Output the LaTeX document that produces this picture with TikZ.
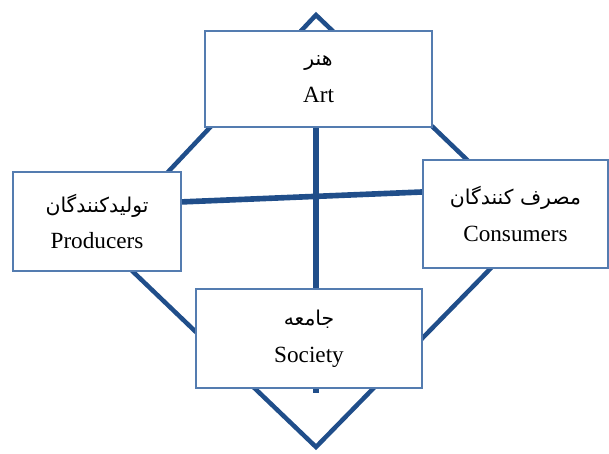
\documentclass[tikz,border=0pt]{standalone}
\usepackage{fontspec}
\setmainfont{Liberation Serif}
\newfontfamily\persianfont[Script=Arabic]{DejaVu Sans}
\TeXXeTstate=1
\usepackage{xcolor}
\usetikzlibrary{backgrounds}
\definecolor{linkblue}{RGB}{32,78,138}
\definecolor{edgeblue}{RGB}{84,124,176}
\newcommand{\fa}[1]{{\persianfont\fontsize{14.5}{14.5}\selectfont\beginR #1\endR}}
\tikzset{
  box/.style={draw=edgeblue, line width=1.4pt, fill=white, rectangle, align=center, font=\fontsize{16.5}{26}\selectfont},
  rim/.style={draw=linkblue, line width=3.2pt, line join=miter},
  bar/.style={draw=linkblue, line width=4pt}
}

\begin{document}
\begin{tikzpicture}[x=0.025cm, y=-0.025cm]
\useasboundingbox (0,0) rectangle (609,453);

% boxes
\node[box, minimum width=5.675cm, minimum height=2.4cm] (art) at (318.5,79) {\fa{هنر}\\Art};
\node[box, minimum width=4.2cm, minimum height=2.475cm] (prod) at (97,221.5) {\fa{تولیدکنندگان}\\Producers};
\node[box, minimum width=4.625cm, minimum height=2.7cm] (cons) at (515.5,214) {\fa{مصرف کنندگان}\\Consumers};
\node[box, minimum width=5.65cm, minimum height=2.475cm] (soc) at (309,338.5) {\fa{جامعه}\\Society};

% corners of the diamond and the end of the axis
\coordinate (top) at (316,15);
\coordinate (lft) at (102,242);
\coordinate (bot) at (316,447);
\coordinate (rgt) at (534,224);
\coordinate (stub) at (316,393);

\begin{pgfonlayer}{background}
\draw[rim] (top) -- (lft) -- (bot) -- (rgt) -- cycle;
\draw[bar] (stub |- art.center) -- (stub);
\draw[bar] ([yshift=0.49cm]prod.east) -- ([yshift=0.55cm]cons.west);
\end{pgfonlayer}
\end{tikzpicture}
\end{document}
